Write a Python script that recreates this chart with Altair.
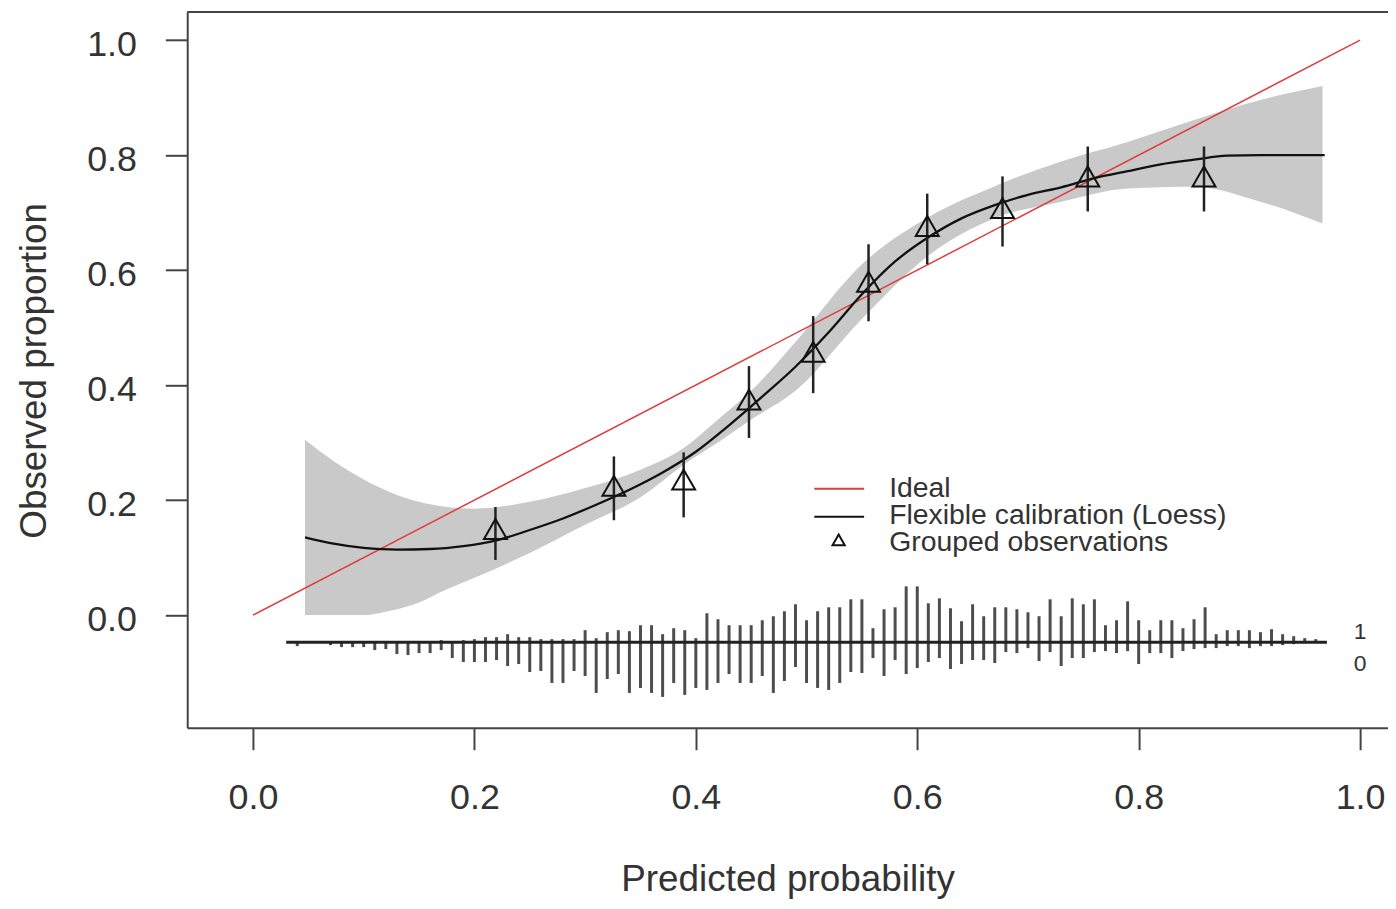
import altair as alt
import pandas as pd

# ---------------- data ----------------
# flexible calibration (loess) curve
loess_x = [0.047, 0.07, 0.10, 0.13, 0.16, 0.19, 0.22, 0.25, 0.28, 0.31, 0.34, 0.37,
           0.40, 0.43, 0.46, 0.49, 0.52, 0.55, 0.58, 0.61, 0.64, 0.67, 0.70, 0.73,
           0.76, 0.79, 0.82, 0.85, 0.88, 0.91, 0.94, 0.968]
loess_y = [0.135, 0.125, 0.117, 0.114, 0.115, 0.120, 0.130, 0.148, 0.168, 0.192, 0.218, 0.248,
           0.284, 0.330, 0.380, 0.432, 0.492, 0.558, 0.615, 0.657, 0.690, 0.713, 0.731, 0.744,
           0.760, 0.772, 0.784, 0.792, 0.799, 0.800, 0.800, 0.800]

# confidence band around the loess curve
band_x = [0.047, 0.075, 0.10, 0.125, 0.15, 0.175, 0.20, 0.25, 0.30, 0.35, 0.39, 0.42,
          0.45, 0.49, 0.55, 0.61, 0.67, 0.73, 0.79, 0.85, 0.91, 0.966]
band_hi = [0.305, 0.265, 0.236, 0.213, 0.197, 0.188, 0.185, 0.197, 0.221, 0.253, 0.292, 0.340,
           0.390, 0.475, 0.610, 0.692, 0.746, 0.789, 0.823, 0.861, 0.896, 0.920]
band_lo = [0.0, 0.0, 0.0, 0.008, 0.022, 0.045, 0.065, 0.108, 0.157, 0.205, 0.263, 0.300,
           0.340, 0.390, 0.515, 0.625, 0.690, 0.719, 0.742, 0.745, 0.719, 0.681]

# grouped observations with their intervals
obs_x = [0.219, 0.326, 0.389, 0.448, 0.506, 0.556, 0.609, 0.677, 0.754, 0.859]
obs_y = [0.144, 0.219, 0.230, 0.369, 0.452, 0.574, 0.671, 0.702, 0.757, 0.757]
obs_lo = [0.096, 0.165, 0.170, 0.308, 0.386, 0.511, 0.610, 0.641, 0.702, 0.702]
obs_hi = [0.188, 0.276, 0.283, 0.433, 0.520, 0.645, 0.733, 0.763, 0.815, 0.815]

# ideal line
ideal_x = [0.0, 1.0]
ideal_y = [0.0, 1.0]

# histogram of predicted probabilities (events up, non-events down)
hist_bins = [0.04, 0.05, 0.06, 0.07, 0.08, 0.09, 0.10, 0.11, 0.12, 0.13, 0.14, 0.15,
             0.16, 0.17, 0.18, 0.19, 0.20, 0.21, 0.22, 0.23, 0.24, 0.25, 0.26, 0.27,
             0.28, 0.29, 0.30, 0.31, 0.32, 0.33, 0.34, 0.35, 0.36, 0.37, 0.38, 0.39,
             0.40, 0.41, 0.42, 0.43, 0.44, 0.45, 0.46, 0.47, 0.48, 0.49, 0.50, 0.51,
             0.52, 0.53, 0.54, 0.55, 0.56, 0.57, 0.58, 0.59, 0.60, 0.61, 0.62, 0.63,
             0.64, 0.65, 0.66, 0.67, 0.68, 0.69, 0.70, 0.71, 0.72, 0.73, 0.74, 0.75,
             0.76, 0.77, 0.78, 0.79, 0.80, 0.81, 0.82, 0.83, 0.84, 0.85, 0.86, 0.87,
             0.88, 0.89, 0.90, 0.91, 0.92, 0.93, 0.94, 0.95, 0.96]
hist_up = [0, 0, 0, 0, 0, 0, 0, 0, 0, 0, 0, 0,
           0, 2, 0, 2, 3, 5, 5, 8, 5, 5, 3, 3,
           3, 3, 12, 4, 10, 12, 11, 17, 17, 8, 14, 12,
           4, 29, 23, 17, 17, 17, 22, 26, 31, 38, 22, 31,
           35, 35, 43, 43, 14, 33, 35, 56, 56, 39, 44, 34,
           21, 38, 26, 35, 35, 33, 30, 26, 43, 26, 44, 38,
           43, 17, 22, 41, 22, 12, 22, 22, 14, 23, 35, 8,
           12, 12, 12, 10, 13, 8, 6, 4, 3]
hist_down = [4, 0, 0, 3, 5, 5, 5, 8, 7, 12, 13, 11,
             11, 8, 16, 20, 20, 20, 18, 24, 22, 30, 29, 41,
             41, 29, 34, 51, 37, 32, 51, 46, 51, 55, 41, 53,
             46, 48, 41, 32, 41, 41, 34, 51, 39, 25, 41, 46,
             48, 41, 30, 31, 16, 34, 18, 32, 26, 20, 16, 27,
             22, 18, 18, 21, 10, 11, 6, 19, 10, 24, 16, 16,
             10, 9, 11, 9, 22, 11, 11, 16, 9, 7, 6, 6,
             4, 4, 6, 4, 4, 3, 2, 1, 1]
hist_span = [0.03, 0.97]
hist_side_labels = ["1", "0"]

x_ticks = [0.0, 0.2, 0.4, 0.6, 0.8, 1.0]
y_ticks = [0.0, 0.2, 0.4, 0.6, 0.8, 1.0]
legend_labels = ["Ideal", "Flexible calibration (Loess)", "Grouped observations"]

# ---------------- layout constants ----------------
W, H = 1206, 719
XMIN, XMAX = -0.0594, 1.0252
YMIN, YMAX = -0.196, 1.049
HIST_BASE = -0.047
HIST_SCALE = (YMAX - YMIN) / H      # frequency units -> proportion units
FONT = "Liberation Sans"
TXT = "#333333"
FRAME = "#444444"
TRI = "M0,-1.155L1,0.577L-1,0.577Z"

xs = alt.Scale(domain=[XMIN, XMAX], nice=False, zero=False)
ys = alt.Scale(domain=[YMIN, YMAX], nice=False, zero=False)
xax = alt.Axis(values=x_ticks, format=".1f", title="Predicted probability",
               labelPadding=31, labelFlush=False, labelOverlap=False,
               titleY=163, titleBaseline="alphabetic")
yax = alt.Axis(values=y_ticks, format=".1f", title="Observed proportion",
               labelPadding=29, labelBaseline="middle", labelOffset=4,
               labelOverlap=False, titleX=-142, titleY=360, titleAngle=270,
               titleBaseline="alphabetic")


def X(f="x"):
    return alt.X(f, type="quantitative", scale=xs, axis=xax)


def Y(f="y"):
    return alt.Y(f, type="quantitative", scale=ys, axis=yax)


band_df = pd.DataFrame({"x": band_x, "y": band_lo, "y2": band_hi})
loess_df = pd.DataFrame({"x": loess_x, "y": loess_y})
ideal_df = pd.DataFrame({"x": ideal_x, "y": ideal_y})
obs_df = pd.DataFrame({"x": obs_x, "y": obs_y, "lo": obs_lo, "hi": obs_hi})

spk = []
for b, u, d in zip(hist_bins, hist_up, hist_down):
    if u > 0:
        spk.append({"x": b, "y": HIST_BASE, "y2": HIST_BASE + u * HIST_SCALE})
    if d > 0:
        spk.append({"x": b, "y": HIST_BASE, "y2": HIST_BASE - d * HIST_SCALE})
spike_df = pd.DataFrame(spk)
base_df = pd.DataFrame({"x": [hist_span[0]], "x2": [hist_span[1]], "y": [HIST_BASE]})
side_df = pd.DataFrame({"x": [1.0, 1.0],
                        "y": [HIST_BASE + 0.0168, HIST_BASE - 0.0378],
                        "t": hist_side_labels})

# legend (placed like R's legend(), in data coordinates)
LX0, LX1, LTRI, LTXT = 0.507, 0.552, 0.529, 0.5746
leg_lines = pd.DataFrame({"x": [LX0, LX0], "x2": [LX1, LX1], "y": [0.2196, 0.1711],
                          "s": legend_labels[:2]})
leg_tri = pd.DataFrame({"x": [LTRI], "y": [0.1278]})
leg_txt = pd.DataFrame({"x": [LTXT] * 3, "y": [0.2057, 0.1590, 0.1122], "t": legend_labels})

band = alt.Chart(band_df).mark_area(color="#c9c9c9", opacity=1, interpolate="monotone").encode(
    x=X(), y=Y(), y2="y2")
ideal = alt.Chart(ideal_df).mark_line(color="#e03c3c", strokeWidth=1.5).encode(x=X(), y=Y())
loess = alt.Chart(loess_df).mark_line(color="#111111", strokeWidth=2.3,
                                      interpolate="monotone").encode(x=X(), y=Y())
spikes = alt.Chart(spike_df).mark_rule(color="#4d4d4d", strokeWidth=3).encode(
    x=X(), y=Y(), y2="y2")
baseline = alt.Chart(base_df).mark_rule(color="#222222", strokeWidth=3).encode(
    x=X(), x2="x2", y=Y())
side = alt.Chart(side_df).mark_text(font=FONT, fontSize=23, color=TXT, align="center",
                                    baseline="middle").encode(x=X(), y=Y(), text="t")
errbars = alt.Chart(obs_df).mark_rule(color="#222222", strokeWidth=2.5).encode(
    x=X(), y=Y("lo"), y2="hi")
points = alt.Chart(obs_df).mark_point(shape=TRI, size=529, filled=False, color="#111111",
                                      strokeWidth=2, opacity=1).encode(x=X(), y=Y())

leg_l = alt.Chart(leg_lines).mark_rule(strokeWidth=2).encode(
    x=X(), x2="x2", y=Y(),
    color=alt.Color("s:N", scale=alt.Scale(domain=legend_labels[:2],
                                           range=["#e03c3c", "#111111"]), legend=None))
leg_p = alt.Chart(leg_tri).mark_point(shape=TRI, size=150, filled=False, color="#111111",
                                      strokeWidth=2, opacity=1).encode(x=X(), y=Y())
leg_t = alt.Chart(leg_txt).mark_text(font=FONT, fontSize=28.5, color=TXT, align="left",
                                     baseline="alphabetic").encode(x=X(), y=Y(), text="t")

frame_top = alt.Chart(pd.DataFrame({"k": [0]})).mark_rule(color=FRAME, strokeWidth=2).encode(
    x=alt.value(0), x2=alt.value(W), y=alt.value(0))

chart = alt.layer(
    band, ideal, loess, spikes, baseline, side, errbars, points,
    leg_l, leg_p, leg_t, frame_top
).properties(
    width=W, height=H,
    autosize=alt.AutoSizeParams(type="none"),
    padding={"left": 180, "top": 2, "right": 0, "bottom": 172},
).configure_view(stroke=None).configure_axis(
    grid=False, domainColor=FRAME, domainWidth=2, tickColor=FRAME, tickWidth=2,
    tickSize=22, labelFont=FONT, labelFontSize=36, labelColor=TXT,
    titleFont=FONT, titleFontSize=37, titleColor=TXT, titleFontWeight="normal"
)

chart.save("out.html", embed_options={"renderer": "svg", "actions": False})
